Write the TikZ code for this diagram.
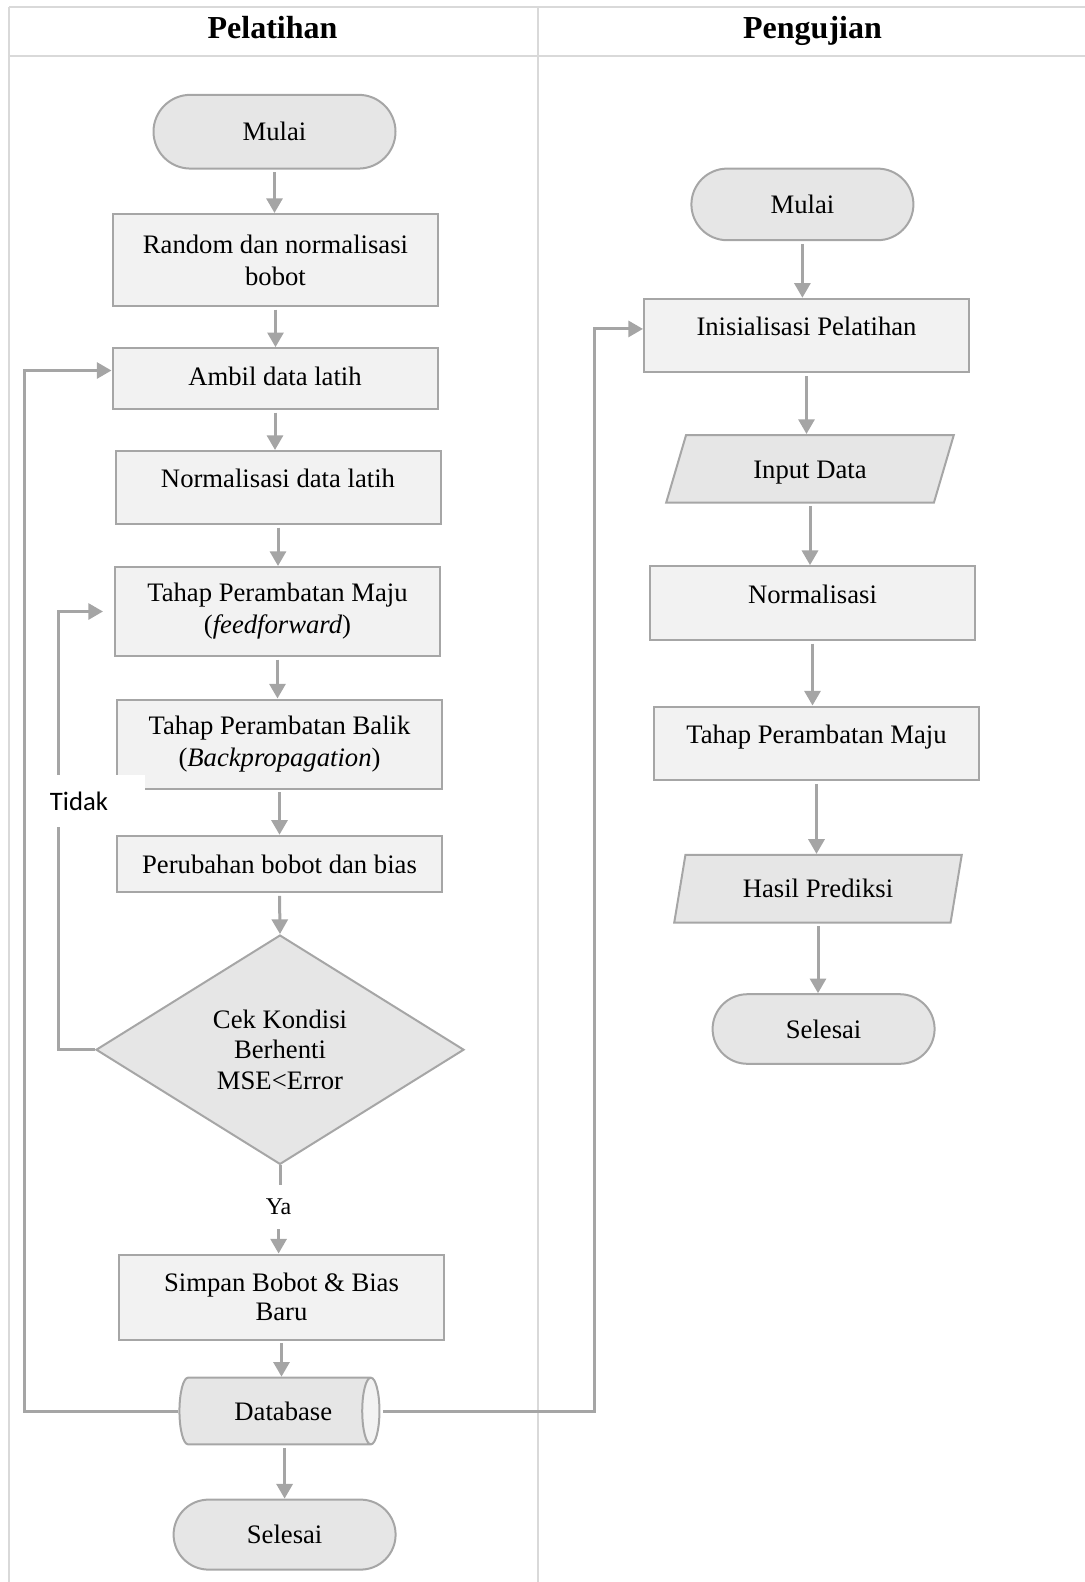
\documentclass[tikz,border=0pt]{standalone}
\usepackage{fontspec}
\setmainfont{Liberation Serif}
\newfontfamily\calfont{Carlito}
\usetikzlibrary{shapes.geometric,shapes.misc,arrows.meta}
\definecolor{bord}{HTML}{A6A6A6}
\definecolor{arrc}{HTML}{A5A5A5}
\definecolor{boxf}{HTML}{F2F2F2}
\definecolor{termf}{HTML}{E6E6E6}
\definecolor{gridc}{HTML}{D9D9D9}
\begin{document}
\begin{tikzpicture}[x=0.75pt,y=-0.75pt,
  font=\fontsize{20}{24}\selectfont,
  base/.style={draw=bord, line width=1.5pt, align=center, inner sep=3pt},
  procbox/.style={base, rectangle, fill=boxf, minimum width=243.75pt},
  termbox/.style={base, rounded rectangle, fill=termf, minimum width=172.5pt},
  iobox/.style={base, trapezium, trapezium left angle=76, trapezium right angle=104, trapezium stretches=true, fill=termf, minimum width=216pt, minimum height=50.7pt},
  toptext/.style={text depth=13.5pt},
  arr/.style={draw=arrc, line width=2.25pt, -{Triangle[width=12pt,length=11pt]}, shorten <=2pt},
  lineonly/.style={draw=arrc, line width=2.25pt},
  gridline/.style={draw=gridc, line width=1.5pt},
  hdr/.style={font=\fontsize{24}{28}\selectfont\bfseries, anchor=base},
]
\useasboundingbox (0,0) rectangle (1085,1582);
% table
\draw[gridline] (9,7) -- (1085,7);
\draw[gridline] (9,55.5) -- (1085,55.5);
\draw[gridline] (9,7) -- (9,1582);
\draw[gridline] (538,7) -- (538,1582);
\node[hdr] (h1) at (272.5,38.4) {Pelatihan};
\node[hdr] (h2) at (812.5,38.4) {Pengujian};
% left column
\node[termbox, minimum width=187.5pt, minimum height=55.3pt] (m1) at (274.5,131.7) {Mulai};
\node[procbox, minimum height=69pt] (r1) at (275.5,260) {Random dan normalisasi\\bobot};
\node[procbox, minimum height=45.5pt, text depth=4pt] (a1) at (275,378.5) {Ambil data latih};
\node[procbox, minimum height=54.75pt, toptext] (n1) at (278,487.5) {Normalisasi data latih};
\node[procbox, minimum height=66.75pt] (fw) at (277.5,611.5) {Tahap Perambatan Maju\\(\textit{feedforward})};
\node[procbox, minimum height=66.75pt] (bp) at (279.5,744) {Tahap Perambatan Balik\\(\textit{Backpropagation})};
\node[procbox, minimum height=42.4pt] (ub) at (279.5,864) {Perubahan bobot dan bias};
\node[base, diamond, fill=termf, minimum width=276pt, minimum height=169.5pt, font=\fontsize{20}{22.7}\selectfont] (ck) at (280,1049.7) {Cek Kondisi\\Berhenti\\MSE<Error};
\node[inner sep=0pt, minimum height=33pt, font=\fontsize{18}{22}\selectfont] (ya) at (278.6,1207) {Ya};
\node[procbox, minimum height=63.75pt, font=\fontsize{20}{22}\selectfont] (sb) at (281.5,1297) {Simpan Bobot \& Bias\\Baru};
\node[base, cylinder, shape aspect=0.65, cylinder uses custom fill, cylinder body fill=termf, cylinder end fill=boxf, minimum height=150pt, minimum width=50pt, text depth=0pt] (db) at (272.6,1411) {\hspace*{16pt}Database};
\node[termbox, minimum height=52.5pt] (s1) at (284.6,1534.6) {Selesai};
% right column
\node[termbox, minimum height=53.7pt] (m2) at (802.4,204.4) {Mulai};
\node[procbox, minimum height=55.3pt, toptext] (in2) at (806.5,335.6) {Inisialisasi Pelatihan};
\node[iobox, text height=19pt] (id) at (810,468.8) {Input Data};
\node[procbox, minimum height=55.3pt, toptext] (n2) at (812.5,603) {Normalisasi};
\node[procbox, minimum height=55.3pt, toptext] (fw2) at (816.5,743.4) {Tahap Perambatan Maju};
\node[iobox] (hp) at (818,888.7) {Hasil Prediksi};
\node[termbox, minimum height=52.2pt] (s2) at (823.6,1029) {Selesai};
% arrows left
\draw[arr] (m1.south) -- (m1.south |- r1.north);
\draw[arr] (r1.south) -- (r1.south |- a1.north);
\draw[arr] (a1.south) -- (a1.south |- n1.north);
\draw[arr] (n1.south) -- (n1.south |- fw.north);
\draw[arr] (fw.south) -- (fw.south |- bp.north);
\draw[arr] (bp.south) -- (bp.south |- ub.north);
\draw[arr] (ub.south) -- (ck.north);
\draw[lineonly] (ck.south) -- (ck.south |- ya.north);
\draw[arr, shorten <=0pt] (ya.south) -- (ya.south |- sb.north);
\draw[arr] (sb.south) -- (sb.south |- db.north);
\draw[arr] (s1.north |- db.south) -- (s1.north);
% arrows right
\draw[arr] (m2.south) -- (m2.south |- in2.north);
\draw[arr] (in2.south) -- (in2.south |- id.north);
\draw[arr] (id.south) -- (id.south |- n2.north);
\draw[arr] (n2.south) -- (n2.south |- fw2.north);
\draw[arr] (fw2.south) -- (fw2.south |- hp.north);
\draw[arr] (hp.south) -- (hp.south |- s2.north);
% loops
\coordinate (tk) at (58.5,0);
\coordinate (lk) at (24.2,0);
\coordinate (rk) at (594.5,0);
\draw[arr, shorten <=0pt, shorten >=8.25pt] (ck.west) -- (ck.west -| tk) |- (fw.west);
\draw[arr, shorten <=0pt] (db.west) -- (db.west -| lk) |- ([yshift=6pt]a1.west);
\draw[arr] (db.east) -- (db.east -| rk) |- ([yshift=5pt]in2.west);
% Tidak label
\node[font=\calfont\fontsize{20}{24}\selectfont, fill=white, anchor=west, text width=69.5pt, align=left, inner xsep=2pt, inner ysep=0pt, minimum height=39pt] (td) at (47,801) {Tidak};
\end{tikzpicture}
\end{document}
